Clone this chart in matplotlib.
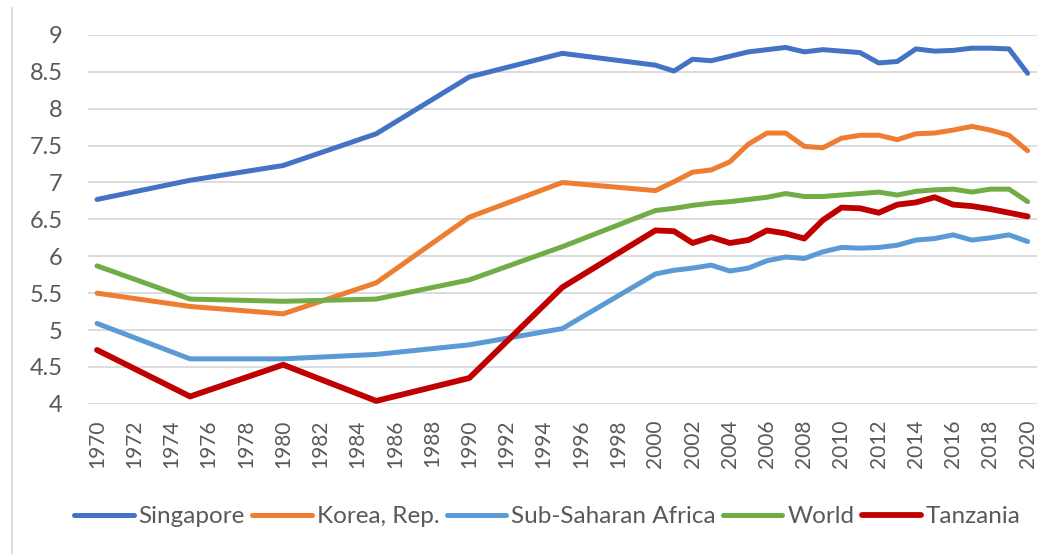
import matplotlib
matplotlib.use("Agg")
import matplotlib.pyplot as plt
from matplotlib import font_manager
from matplotlib.lines import Line2D

# pick a narrow font close to Calibri if one is installed
font = "Lato"
for name in ["Liberation Sans Narrow", "Lato"]:
    try:
        font_manager.findfont(name, fallback_to_default=False)
        font = name
        break
    except ValueError:
        pass
plt.rcParams["font.family"] = [font, "DejaVu Sans"]

# Data: 5-year values to 1995, then annual
years = [1970, 1975, 1980, 1985, 1990, 1995] + list(range(2000, 2021))

singapore = [6.77, 7.03, 7.23, 7.66, 8.43, 8.75,
             8.59, 8.51, 8.67, 8.65, 8.71, 8.77, 8.80, 8.83, 8.77, 8.80, 8.78,
             8.76, 8.62, 8.64, 8.81, 8.78, 8.79, 8.82, 8.82, 8.81, 8.48]
korea = [5.50, 5.32, 5.22, 5.64, 6.53, 7.00,
         6.89, 7.01, 7.14, 7.17, 7.28, 7.52, 7.67, 7.67, 7.49, 7.47, 7.60,
         7.64, 7.64, 7.58, 7.66, 7.67, 7.71, 7.76, 7.71, 7.64, 7.43]
ssa = [5.09, 4.61, 4.61, 4.67, 4.80, 5.02,
       5.76, 5.81, 5.84, 5.88, 5.80, 5.84, 5.94, 5.99, 5.97, 6.06, 6.12,
       6.11, 6.12, 6.15, 6.22, 6.24, 6.29, 6.22, 6.25, 6.29, 6.20]
world = [5.87, 5.42, 5.39, 5.42, 5.68, 6.13,
         6.62, 6.65, 6.69, 6.72, 6.74, 6.77, 6.80, 6.85, 6.81, 6.81, 6.83,
         6.85, 6.87, 6.83, 6.88, 6.90, 6.91, 6.87, 6.91, 6.91, 6.74]
tanzania = [4.73, 4.10, 4.53, 4.04, 4.35, 5.58,
            6.35, 6.34, 6.18, 6.26, 6.18, 6.22, 6.35, 6.31, 6.24, 6.49, 6.66,
            6.65, 6.59, 6.70, 6.73, 6.80, 6.70, 6.68, 6.64, 6.59, 6.54]

series = [
    ("Singapore", singapore, "#4472C4", 3.6),
    ("Korea, Rep.", korea, "#ED7D31", 3.6),
    ("Sub-Saharan Africa", ssa, "#5B9BD5", 3.6),
    ("World", world, "#70AD47", 3.6),
    ("Tanzania", tanzania, "#C00000", 4.2),
]

text_color = "#595959"

fig = plt.figure(figsize=(10.57, 5.54), dpi=100)
ax = fig.add_axes([0.083, 0.271, 0.898, 0.666])

for label, vals, color, lw in series:
    ax.plot(years, vals, color=color, linewidth=lw, label=label,
            solid_joinstyle="round", solid_capstyle="round")

ax.set_xlim(1969.5, 2020.5)
ax.set_ylim(4, 9)
ax.set_yticks([4, 4.5, 5, 5.5, 6, 6.5, 7, 7.5, 8, 8.5, 9])
ax.set_yticklabels(["4", "4.5", "5", "5.5", "6", "6.5", "7", "7.5", "8", "8.5", "9"])
ax.set_xticks(list(range(1970, 2021, 2)))
ax.set_xticklabels([str(y) for y in range(1970, 2021, 2)], rotation=90)

ax.grid(axis="y", color="#D9D9D9", linewidth=1.3)
ax.set_axisbelow(True)
for s in ax.spines.values():
    s.set_visible(False)
ax.tick_params(axis="both", length=0, colors=text_color)
ax.tick_params(axis="y", labelsize=17, pad=18)
ax.tick_params(axis="x", labelsize=15, pad=11)

fig.legend(loc="center", bbox_to_anchor=(0.518, 0.067), ncol=5, frameon=False,
           fontsize=17.5, handlelength=2.45, handletextpad=0.2, columnspacing=0.3,
           labelcolor=text_color)

# chart area border on the left
fig.add_artist(Line2D([0.0115, 0.0115], [0.0, 0.985], color="#D9D9D9", linewidth=1.2))

fig.savefig("out.png", dpi=100)
